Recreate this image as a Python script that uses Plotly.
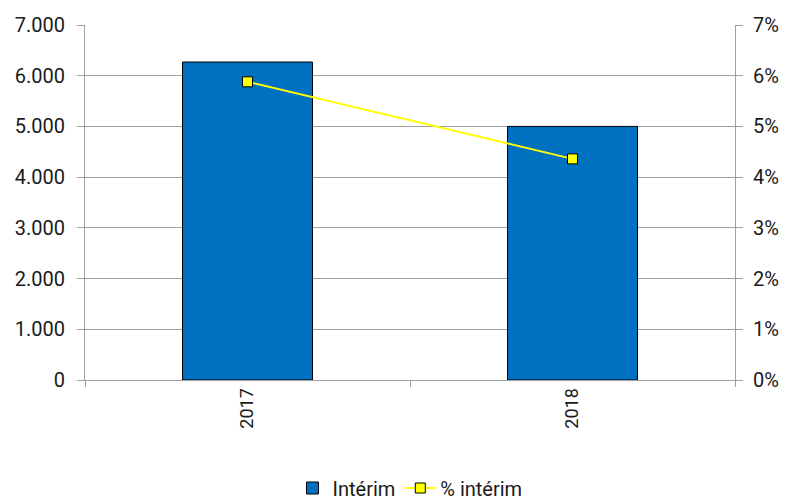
import plotly.graph_objects as go

years = ["2017", "2018"]
interim = [6270, 5000]
pct_interim = [0.0588, 0.0436]

fig = go.Figure()
fig.add_trace(go.Bar(
    x=years, y=interim, name="Intérim",
    marker=dict(color="#0070C0", line=dict(color="#000000", width=1)),
    width=0.4,
))
fig.add_trace(go.Scatter(
    x=years, y=pct_interim, name="% intérim", yaxis="y2",
    mode="lines+markers",
    line=dict(color="#FFFF00", width=2),
    marker=dict(symbol="square", size=10, color="#FFFF00", line=dict(color="#000000", width=1)),
))

fig.update_layout(
    width=787, height=500,
    margin=dict(l=77, r=60, t=17, b=128),
    paper_bgcolor="white", plot_bgcolor="white",
    separators=",.",
    font=dict(family="Roboto", size=20, color="#1a1a1a"),
    showlegend=True,
    legend=dict(orientation="h", x=0.5, xanchor="center", y=0.04, yanchor="middle",
                yref="container", font=dict(size=20), traceorder="normal",
                itemwidth=30, tracegroupgap=0),
    xaxis=dict(type="category", tickangle=-90, showline=True, linecolor="#A0A0A0", linewidth=1,
               ticks="outside", tickson="boundaries", ticklen=6, tickcolor="#A0A0A0",
               showgrid=False, tickfont=dict(size=18), automargin=False),
    yaxis=dict(range=[0, 7000], dtick=1000, tickformat=",d", showline=True, linecolor="#A0A0A0",
               linewidth=1, ticks="outside", ticklen=7, tickcolor="#A0A0A0",
               showgrid=True, gridcolor="#A0A0A0", gridwidth=1, zeroline=False,
               tickfont=dict(size=20), ticklabelstandoff=8, automargin=False),
    yaxis2=dict(range=[0, 0.07], dtick=0.01, tickformat=".0%", overlaying="y", side="right",
                showline=True, linecolor="#A0A0A0", linewidth=1, ticks="outside", ticklen=7,
                tickcolor="#A0A0A0", showgrid=False, zeroline=False, tickfont=dict(size=20),
                ticklabelstandoff=6, automargin=False),
)

fig.write_html("out.html")
